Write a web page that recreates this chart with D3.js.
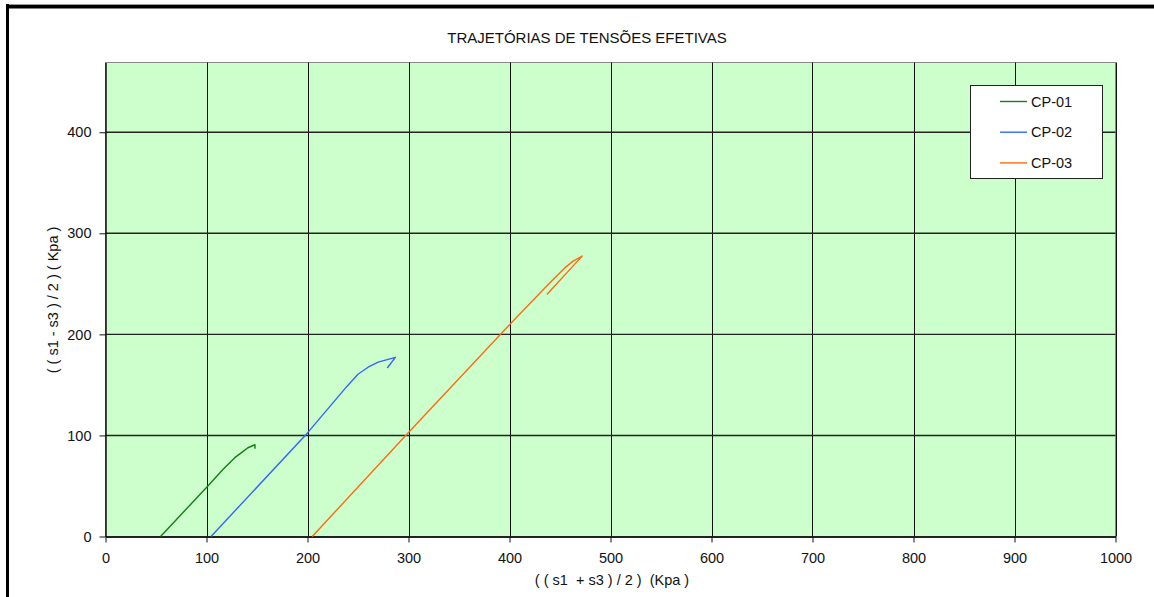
<!DOCTYPE html>
<html>
<head>
<meta charset="utf-8">
<script src="https://cdn.jsdelivr.net/npm/d3@7/dist/d3.min.js"></script>
<style>
  html, body { margin: 0; padding: 0; background: #fff; }
  svg { display: block; }
  text { font-family: "Liberation Sans", Arial, sans-serif; fill: #111; white-space: pre; }
</style>
</head>
<body>
<svg id="chart" width="1154" height="597"></svg>
<script>
// ---- data ----
const title = "TRAJETÓRIAS DE TENSÕES EFETIVAS";
const xTitle = "( ( s1  + s3 ) / 2 )  (Kpa )";
const yTitle = "( ( s1 - s3 ) / 2 ) ( Kpa )";
const seriesNames = ["CP-01", "CP-02", "CP-03"];
const seriesColors = ["#118011", "#3366ff", "#ff6a10"];
const cp01X = [54.5, 100, 116, 128, 136, 141, 148, 148];
const cp01Y = [0, 48.5, 66, 78, 84, 87.8, 90.8, 86.8];
const cp02X = [104.5, 200, 239, 250, 260, 270, 287, 279];
const cp02Y = [0, 102.5, 148.5, 160.5, 167.5, 172.5, 177.3, 166.7];
const cp03X = [204.7, 300, 400, 440, 455, 463, 472, 466, 437];
const cp03Y = [0, 103, 209.5, 251, 266, 272.5, 277.5, 271, 239.5];
const xTicks = [0, 100, 200, 300, 400, 500, 600, 700, 800, 900, 1000];
const yTicks = [0, 100, 200, 300, 400];
const xDomain = [0, 1000];
const yDomain = [0, 469];

const svg = d3.select("#chart");
const W = 1154, H = 597;
const plot = { left: 105.5, right: 1115.5, top: 62.5, bottom: 536.5 };

// frame borders
svg.append("line").attr("x1", 6).attr("x2", W).attr("y1", 4.5).attr("y2", 4.5)
  .attr("stroke", "#999").attr("stroke-width", 1);
svg.append("rect").attr("x", 6).attr("y", 5).attr("width", W - 6).attr("height", 3.5).attr("fill", "#000");
svg.append("rect").attr("x", 6).attr("y", 4).attr("width", 3).attr("height", H - 4).attr("fill", "#000");

const x = d3.scaleLinear().domain(xDomain).range([plot.left, plot.right]);
const y = d3.scaleLinear().domain(yDomain).range([plot.bottom, plot.top]);

// plot background
svg.append("rect").attr("x", plot.left).attr("y", plot.top)
  .attr("width", plot.right - plot.left).attr("height", plot.bottom - plot.top)
  .attr("fill", "#ccffcc").attr("stroke", "#888").attr("stroke-width", 1);

// grid
svg.append("g").selectAll("line").data(xTicks.filter(d => d > 0)).join("line")
  .attr("x1", d => Math.round(x(d)) + 0.5).attr("x2", d => Math.round(x(d)) + 0.5)
  .attr("y1", plot.top).attr("y2", plot.bottom)
  .attr("stroke", "#111").attr("stroke-width", 1);
svg.append("g").selectAll("line").data(yTicks.filter(d => d > 0)).join("line")
  .attr("x1", plot.left).attr("x2", plot.right)
  .attr("y1", d => y(d)).attr("y2", d => y(d))
  .attr("stroke", "#222").attr("stroke-width", 1.4);

// axes
const xAxis = d3.axisBottom(x).tickValues(xTicks).tickSize(6).tickSizeOuter(0).tickPadding(10).tickFormat(d3.format("d"));
const gx = svg.append("g").attr("transform", `translate(0,${plot.bottom})`).call(xAxis);
gx.select(".domain").attr("stroke", "#222").attr("stroke-width", 2);
gx.selectAll(".tick line").attr("stroke", "#111");
gx.selectAll("text").attr("font-size", "14.5px").attr("font-family", "Liberation Sans, Arial, sans-serif").attr("fill", "#111");

const yAxis = d3.axisLeft(y).tickValues(yTicks).tickSize(6).tickSizeOuter(0).tickPadding(8).tickFormat(d3.format("d"));
const gy = svg.append("g").attr("transform", `translate(${plot.left},0)`).call(yAxis);
gy.select(".domain").attr("stroke", "#111").attr("stroke-width", 1.5);
gy.selectAll(".tick line").attr("stroke", "#111");
gy.selectAll("text").attr("font-size", "14.5px").attr("font-family", "Liberation Sans, Arial, sans-serif").attr("fill", "#111");

// series
const series = [
  { xs: cp01X, ys: cp01Y },
  { xs: cp02X, ys: cp02Y },
  { xs: cp03X, ys: cp03Y }
];
const line = d3.line().x(d => x(d[0])).y(d => y(d[1]));
series.forEach((s, i) => {
  const pts = s.xs.map((v, j) => [v, s.ys[j]]);
  svg.append("path").datum(pts).attr("d", line)
    .attr("fill", "none").attr("stroke", seriesColors[i]).attr("stroke-width", 1.4)
    .attr("stroke-linejoin", "round");
});

// titles
svg.append("text").attr("x", 587).attr("y", 43).attr("text-anchor", "middle")
  .attr("font-size", "15px").text(title);
svg.append("text").attr("x", 612).attr("y", 585).attr("text-anchor", "middle")
  .attr("font-size", "14.5px").text(xTitle);
svg.append("text").attr("transform", `translate(58,300) rotate(-90)`).attr("text-anchor", "middle")
  .attr("font-size", "14.5px").text(yTitle);

// legend
const lg = svg.append("g");
lg.append("rect").attr("x", 970.5).attr("y", 85.5).attr("width", 132).attr("height", 93)
  .attr("fill", "#fff").attr("stroke", "#222").attr("stroke-width", 1);
seriesNames.forEach((n, i) => {
  const cy = 101.5 + i * 30.7;
  lg.append("line").attr("x1", 1000).attr("x2", 1027).attr("y1", cy).attr("y2", cy)
    .attr("stroke", seriesColors[i]).attr("stroke-width", 1.4);
  lg.append("text").attr("x", 1031).attr("y", cy + 5).attr("font-size", "14.5px").text(n);
});
</script>
</body>
</html>
